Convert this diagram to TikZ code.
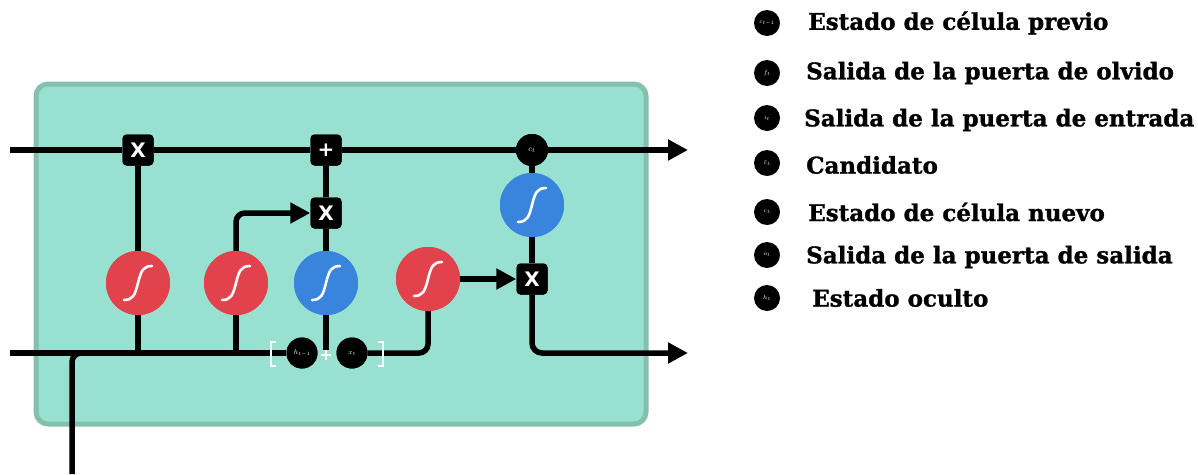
\documentclass[tikz,border=0pt]{standalone}
\usepackage{fontspec}
\setsansfont{DejaVu Sans}
\newfontfamily\legfont[BoldFeatures={FakeBold=1.2}]{DejaVu Serif}
\usetikzlibrary{arrows.meta,calc}
\definecolor{cellfill}{HTML}{98E1D0}
\definecolor{celledge}{HTML}{85BFAE}
\definecolor{sred}{HTML}{E2424B}
\definecolor{sblue}{HTML}{3985DE}
\tikzset{
  line/.style={draw=black, line width=5.5pt},
  arrow/.style={line, -{Triangle[length=20pt,width=20pt]}},
  opbox/.style={fill=black, rounded corners=4pt, minimum size=31pt, inner sep=0pt, text=white, font=\sffamily\bfseries\fontsize{20}{20}\selectfont},
  sig/.style={circle, minimum size=64pt, inner sep=0pt},
  sigline/.style={draw=white, line width=2.6pt, line cap=round},
  dot/.style={circle, fill=black, inner sep=0pt, text=white},
  legdot/.style={dot, minimum size=26pt, font=\fontsize{6}{6}\selectfont},
  legtext/.style={anchor=west, inner sep=0pt, font=\legfont\bfseries\fontsize{23}{23}\selectfont},
  bracket/.style={draw=white, line width=2pt}
}
\newcommand{\sigcurve}[1]{%
  \draw[sigline] ([shift={(-14,17)}]#1.center) .. controls +(9,0) and +(-3,12) .. (#1.center) .. controls +(3,-12) and +(-9,0) .. ([shift={(14,-17)}]#1.center);}
\begin{document}
\begin{tikzpicture}[x=1pt,y=-1pt]
\useasboundingbox (0,0) rectangle (1198,474);
% cell
\node[draw=celledge, fill=cellfill, line width=5pt, rounded corners=12pt, minimum width=610pt, minimum height=340pt, inner sep=0pt] (cell) at (341,254) {};
% coordinates
\coordinate (inC) at (10,150);
\coordinate (outC) at (688,150);
\coordinate (inH) at (10,353);
\coordinate (outH) at (688,353);
\coordinate (down) at (72,474);
\coordinate (joinH) at (110,353);
% nodes
\node[opbox] (fx) at (138,150) {X};
\node[opbox] (plus) at (326,150) {+};
\node[opbox] (mx) at (326,213) {X};
\node[opbox] (ox) at (532,279) {X};
\node[dot, minimum size=32pt, font=\fontsize{8}{8}\selectfont] (ct) at (532,150) {$c_t$};
\node[sig, fill=sred] (s1) at (138,283) {};
\node[sig, fill=sred] (s2) at (236,283) {};
\node[sig, fill=sblue] (s3) at (326,283) {};
\node[sig, fill=sred] (s4) at (428,279) {};
\node[sig, fill=sblue] (s5) at (532,205) {};
\node[dot, minimum size=31pt, font=\fontsize{7}{7}\selectfont] (hp) at (302,353) {$h_{t-1}$};
\node[dot, minimum size=31pt, font=\fontsize{7}{7}\selectfont] (xt) at (352,353) {$x_t$};
\node[text=white, font=\sffamily\bfseries\fontsize{16}{16}\selectfont, inner sep=0pt] (pl) at (326,355) {+};
% connectors
\draw[line] (inC) -- (fx);
\draw[line] (fx) -- (plus);
\draw[line] (plus) -- (ct);
\draw[arrow] (ct) -- (outC);
\draw[line] (inH) -- (hp);
\draw[line, rounded corners=9pt] (down) |- (joinH);
\draw[line] (fx) -- (s1);
\draw[line] (s1) -- (s1 |- inH);
\draw[line] (s2) -- (s2 |- inH);
\draw[arrow, rounded corners=9pt] (s2) |- (mx);
\draw[line] (s3) -- (mx);
\draw[line] (mx) -- (plus);
\draw[line] (s3.south) -- (pl.north);
\draw[line, rounded corners=9pt] (xt) -| (s4);
\draw[arrow] (s4) -- (ox);
\draw[line] (ct) -- (s5);
\draw[line] (s5) -- (ox);
\draw[arrow, rounded corners=10pt] (ox) |- (outH);
% redraw nodes on top
\node[opbox] at (fx) {X};
\node[opbox] at (plus) {+};
\node[opbox] at (mx) {X};
\node[opbox] at (ox) {X};
\node[dot, minimum size=32pt, font=\fontsize{8}{8}\selectfont] at (ct) {$c_t$};
\node[sig, fill=sred] at (s1) {};
\node[sig, fill=sred] at (s2) {};
\node[sig, fill=sblue] at (s3) {};
\node[sig, fill=sred] at (s4) {};
\node[sig, fill=sblue] at (s5) {};
\node[dot, minimum size=31pt, font=\fontsize{7}{7}\selectfont] at (hp) {$h_{t-1}$};
\node[dot, minimum size=31pt, font=\fontsize{7}{7}\selectfont] at (xt) {$x_t$};
\node[text=white, font=\sffamily\bfseries\fontsize{16}{16}\selectfont, inner sep=0pt] at (pl) {+};
\sigcurve{s1}\sigcurve{s2}\sigcurve{s3}\sigcurve{s4}\sigcurve{s5}
% brackets
\draw[bracket] (276,342) -- (271,342) -- (271,366) -- (276,366);
\draw[bracket] (378,342) -- (383,342) -- (383,366) -- (378,366);
% legend
\node[legdot] (l1) at (767,23) {$c_{t-1}$};
\node[legdot] (l2) at (767,73) {$f_t$};
\node[legdot] (l3) at (767,118) {$i_t$};
\node[legdot] (l4) at (767,163) {$\tilde{c}_t$};
\node[legdot] (l5) at (767,212) {$c_t$};
\node[legdot] (l6) at (767,255) {$o_t$};
\node[legdot] (l7) at (767,298) {$h_t$};
\node[legtext] (t1) at (808,23) {Estado de célula previo};
\node[legtext] (t2) at (806,73) {Salida de la puerta de olvido};
\node[legtext] (t3) at (804,120) {Salida de la puerta de entrada};
\node[legtext] (t4) at (806,165) {Candidato};
\node[legtext] (t5) at (808,212) {Estado de célula nuevo};
\node[legtext] (t6) at (806,257) {Salida de la puerta de salida};
\node[legtext] (t7) at (812,298) {Estado oculto};
\end{tikzpicture}
\end{document}
